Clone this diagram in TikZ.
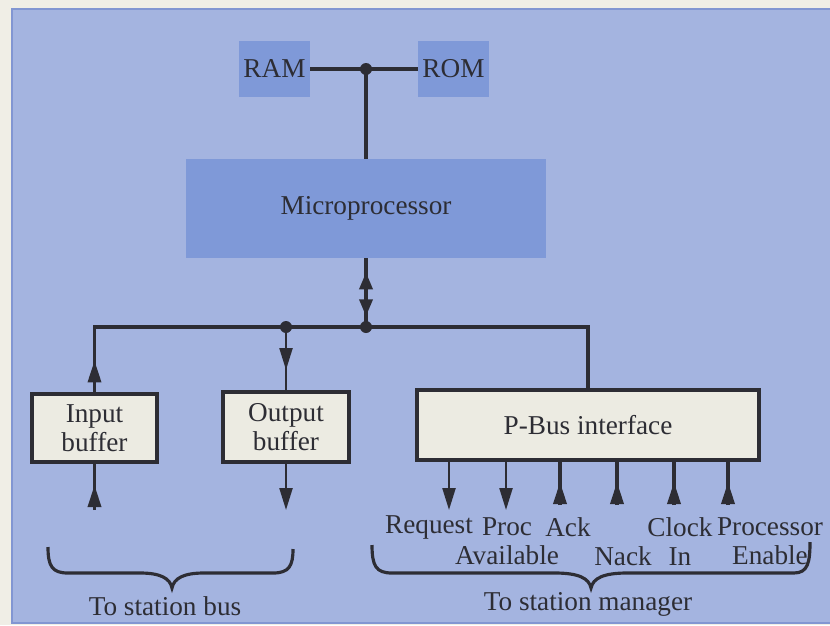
\documentclass[tikz,border=0pt]{standalone}
\usepackage{fontspec}
\setmainfont{Liberation Serif}
\usetikzlibrary{arrows.meta, positioning, calc, decorations.pathreplacing, decorations.markings}
\definecolor{paperwhite}{RGB}{240, 238, 230}
\definecolor{panelblue}{RGB}{164, 180, 224}
\definecolor{paneledge}{RGB}{130, 150, 210}
\definecolor{boxblue}{RGB}{127, 153, 216}
\definecolor{bufwhite}{RGB}{236, 235, 226}
\definecolor{inkgray}{RGB}{45, 45, 52}
\newcommand{\lblfont}{\fontsize{15.5}{16.5}\selectfont}
\tikzset{
  bustip/.tip={Triangle[length=0.44cm, width=0.26cm]},
  shorttip/.tip={Triangle[length=0.34cm, width=0.26cm]},
  wire/.style={draw=inkgray, line width=2pt},
  outwire/.style={draw=inkgray, line width=1.3pt},
  arrowat/.style={postaction={decorate}, decoration={markings, mark=at position #1 with {\arrow{bustip}}}},
  membox/.style={fill=boxblue, text=inkgray, inner sep=0pt, font=\lblfont},
  bufbox/.style={draw=inkgray, line width=1.8pt, fill=bufwhite, text=inkgray, inner sep=0pt, align=center, font=\lblfont},
  lbl/.style={text=inkgray, align=center, inner sep=0pt, font=\lblfont},
  junction/.style={circle, fill=inkgray, inner sep=0pt, minimum size=0.24cm},
  bracket/.style={draw=inkgray, line width=1.8pt}
}

\begin{document}
\begin{tikzpicture}[x=0.02cm, y=-0.02cm]
  \useasboundingbox (0,0) rectangle (830,625);
  % paper and panel
  \fill[paperwhite] (0,0) rectangle (830,625);
  \filldraw[fill=panelblue, draw=paneledge, line width=0.6pt] (12,9) rectangle (840,623);

  % memory and processor
  \node[membox, minimum width=1.42cm, minimum height=1.12cm] (ram) at (274.5,69) {RAM};
  \node[membox, minimum width=1.42cm, minimum height=1.12cm] (rom) at (453.5,69) {ROM};
  \node[membox, minimum width=7.2cm, minimum height=1.98cm] (mp) at (366,208.5) {Microprocessor};

  % buffers and interface
  \node[bufbox, minimum width=2.5cm, minimum height=1.36cm] (ibuf) at (94.5,428) {Input\\buffer};
  \node[bufbox, minimum width=2.52cm, minimum height=1.4cm] (obuf) at (286,427) {Output\\buffer};
  \node[bufbox, minimum width=6.84cm, minimum height=1.4cm] (pbus) at (588,425) {P-Bus interface};

  % memory bus
  \coordinate (memj) at (366,69);
  \draw[wire] (ram.east) -- (rom.west);
  \draw[wire] (memj) -- (mp.north);
  \node[junction] (memdot) at (memj) {};

  % processor bus
  \coordinate (busl) at (94.5,327);
  \coordinate (busm) at (286,327);
  \coordinate (busc) at (366,327);
  \coordinate (busr) at (588,327);
  \draw[wire, arrowat=0.64cm] (ibuf.north) -- (busl) -- (busr) -- (pbus.north);
  \draw[outwire, arrowat=0.86cm] (busm) -- (obuf.north);
  \draw[wire, postaction={decorate}, decoration={markings,
      mark=at position 0.28cm with {\arrowreversed{shorttip}},
      mark=at position 1.16cm with {\arrow{shorttip}}}] (mp.south) -- (busc);
  \node[junction] (middot) at (busm) {};
  \node[junction] (ctrdot) at (busc) {};

  % station bus side
  \coordinate (ibin) at (94.5,510);
  \coordinate (obout) at (286,510);
  \draw[wire, arrowat=0.5cm] (ibin) -- (ibuf.south);
  \draw[outwire, -bustip] (obuf.south) -- (obout);

  % interface pins
  \foreach \n/\x in {1/449, 2/506} {
    \coordinate (pin\n) at (\x,510);
    \draw[outwire, -bustip] (pin\n |- pbus.south) -- (pin\n);
  }
  \foreach \n/\x in {3/560, 4/617, 5/674, 6/728} {
    \coordinate (pin\n) at (\x,505);
    \draw[wire, arrowat=0.46cm] (pin\n) -- (pin\n |- pbus.south);
  }

  % pin labels
  \node[lbl] (lreq) at (429,527) {Request};
  \node[lbl] (lproc) at (507,541.5) {Proc\\Available};
  \node[lbl] (lack) at (568,527) {Ack};
  \node[lbl] (lnack) at (623,556) {Nack};
  \node[lbl] (lclk) at (680,541.5) {Clock\\In};
  \node[lbl] (lpen) at (770,541.5) {Processor\\Enable};

  % braces
  \draw[bracket] (48,547) .. controls (48,566) and (52,573) .. (68,573) -- (140,573)
    .. controls (160,573) and (170,578) .. (172,588)
    .. controls (174,578) and (184,573) .. (204,573) -- (273,573)
    .. controls (289,573) and (293,566) .. (293,549);
  \draw[bracket] (372,545) .. controls (372,566) and (376,573) .. (392,573) -- (555,573)
    .. controls (578,573) and (589,578) .. (591,588)
    .. controls (593,578) and (604,573) .. (627,573) -- (794,573)
    .. controls (808,573) and (810,562) .. (810,542);
  \node[lbl] (tsbus) at (165,606) {To station bus};
  \node[lbl] (tsman) at (588,604) {To station manager};
\end{tikzpicture}
\end{document}
